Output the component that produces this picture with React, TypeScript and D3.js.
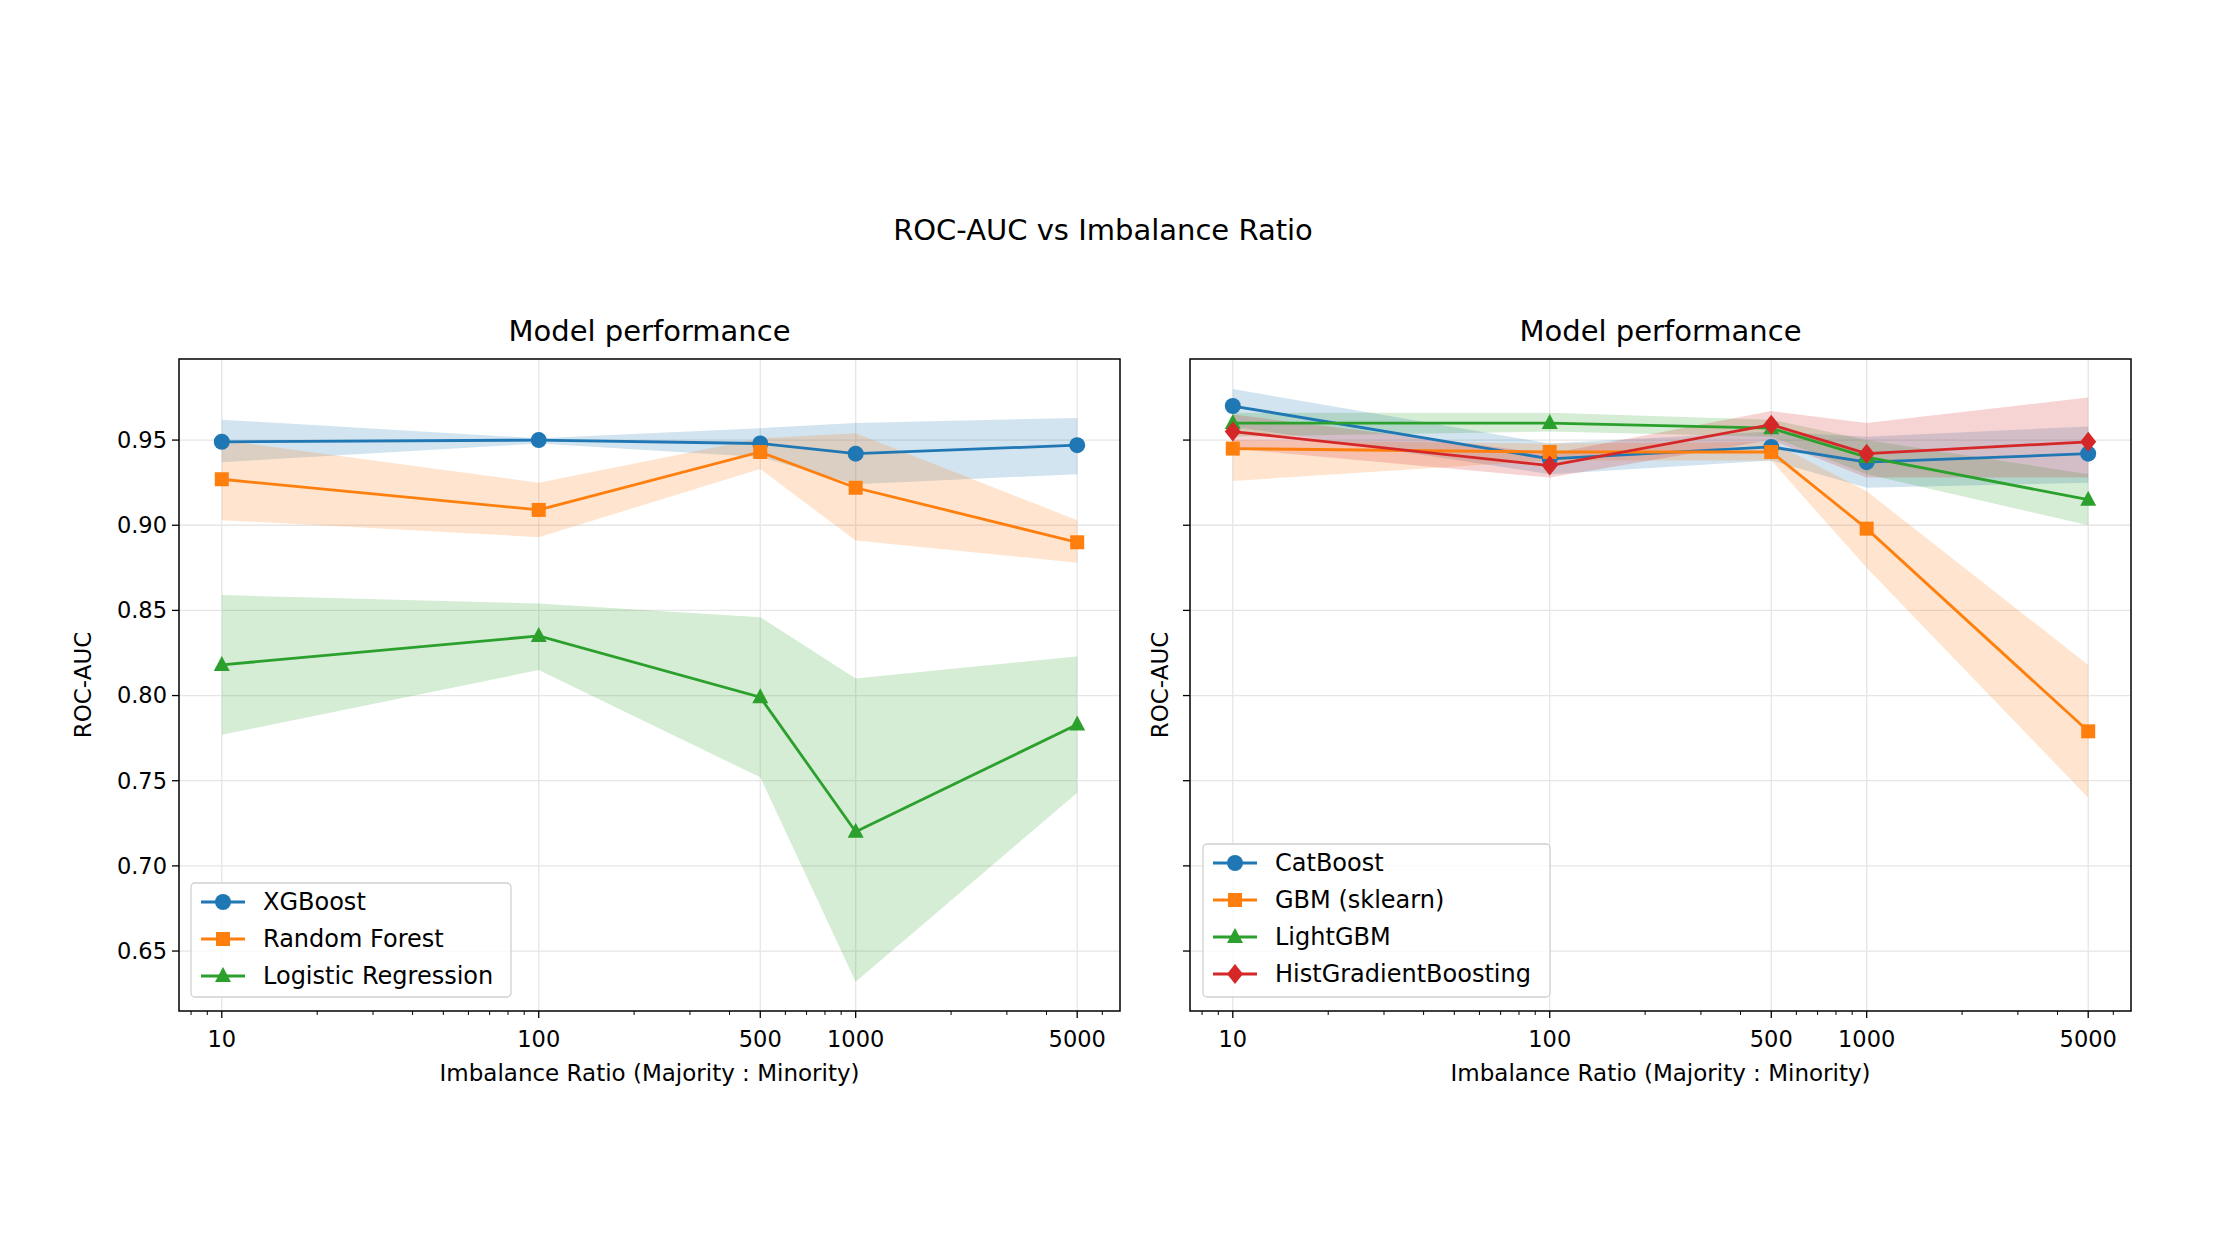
import * as d3 from 'd3'

const RATIOS = [10, 100, 500, 1000, 5000]
const TICKS = [10, 100, 500, 1000, 5000]
const Y_TICKS = [0.65, 0.7, 0.75, 0.8, 0.85, 0.9, 0.95]

interface Series { name: string; color: string; marker: string; mean: number[]; lo: number[]; hi: number[] }

const LEFT: Series[] = [
  { name: 'XGBoost', color: '#1f77b4', marker: 'circle',
    mean: [0.949, 0.950, 0.948, 0.942, 0.947], lo: [0.937, 0.948, 0.940, 0.924, 0.930], hi: [0.962, 0.951, 0.957, 0.960, 0.963] },
  { name: 'Random Forest', color: '#ff7f0e', marker: 'square',
    mean: [0.927, 0.909, 0.943, 0.922, 0.890], lo: [0.903, 0.893, 0.933, 0.891, 0.878], hi: [0.950, 0.925, 0.951, 0.954, 0.903] },
  { name: 'Logistic Regression', color: '#2ca02c', marker: 'triangle',
    mean: [0.818, 0.835, 0.799, 0.720, 0.783], lo: [0.777, 0.815, 0.752, 0.632, 0.743], hi: [0.859, 0.854, 0.846, 0.810, 0.823] },
]

const RIGHT: Series[] = [
  { name: 'CatBoost', color: '#1f77b4', marker: 'circle',
    mean: [0.970, 0.939, 0.946, 0.937, 0.942], lo: [0.958, 0.930, 0.938, 0.922, 0.925], hi: [0.980, 0.948, 0.955, 0.952, 0.958] },
  { name: 'GBM (sklearn)', color: '#ff7f0e', marker: 'square',
    mean: [0.945, 0.943, 0.943, 0.898, 0.779], lo: [0.926, 0.938, 0.938, 0.875, 0.740], hi: [0.950, 0.948, 0.949, 0.920, 0.818] },
  { name: 'LightGBM', color: '#2ca02c', marker: 'triangle',
    mean: [0.960, 0.960, 0.957, 0.940, 0.915], lo: [0.952, 0.955, 0.952, 0.930, 0.900], hi: [0.966, 0.966, 0.962, 0.950, 0.930] },
  { name: 'HistGradientBoosting', color: '#d62728', marker: 'diamond',
    mean: [0.955, 0.935, 0.959, 0.942, 0.949], lo: [0.945, 0.928, 0.950, 0.928, 0.928], hi: [0.965, 0.942, 0.967, 0.960, 0.975] },
]

const FONT = 'DejaVu Sans, sans-serif'
const TOP = 359
const BOTTOM = 1011

function Marker({ kind, x, y, color }: { kind: string; x: number; y: number; color: string }) {
  const s = 8
  if (kind === 'circle') return <circle cx={x} cy={y} r={s} fill={color} />
  if (kind === 'square') return <rect x={x - s + 1} y={y - s + 1} width={2 * s - 2} height={2 * s - 2} fill={color} />
  if (kind === 'triangle') return <path d={`M${x},${y - s - 1}L${x + s},${y + s - 2}L${x - s},${y + s - 2}Z`} fill={color} />
  return <path d={`M${x},${y - s - 2}L${x + s},${y}L${x},${y + s + 2}L${x - s},${y}Z`} fill={color} />
}

function Panel({ left, right, series, showLabels, legend }: { left: number; right: number; series: Series[]; showLabels: boolean; legend: [number, number, number, number] }) {
  const x = d3.scaleLog().domain([10 ** 0.865, 10 ** 3.834]).range([left, right])
  const y = d3.scaleLinear().domain([0.6148, 0.9976]).range([BOTTOM, TOP])
  const minor: number[] = []
  for (let e = 0; e < 4; e++) for (let m = 1; m < 10; m++) {
    const v = m * 10 ** e
    if (v > x.domain()[0] && v < x.domain()[1] && !TICKS.includes(v)) minor.push(v)
  }
  const line = d3.line<number>().x((_, i) => x(RATIOS[i])).y(d => y(d))
  const mid = (left + right) / 2
  const [lx, ly, lw, lh] = legend
  const rowH = 37
  return (
    <g>
      {Y_TICKS.map(t => <line key={t} x1={left} x2={right} y1={y(t)} y2={y(t)} stroke="#e6e6e6" strokeWidth={1.3} />)}
      {TICKS.map(t => <line key={t} x1={x(t)} x2={x(t)} y1={TOP} y2={BOTTOM} stroke="#e6e6e6" strokeWidth={1.3} />)}
      {series.map(s => {
        const band = d3.area<number>().x((_, i) => x(RATIOS[i])).y0((_, i) => y(s.lo[i])).y1((_, i) => y(s.hi[i]))
        return <path key={s.name} d={band(s.mean) ?? ''} fill={s.color} fillOpacity={0.2} />
      })}
      {series.map(s => (
        <g key={s.name}>
          <path d={line(s.mean) ?? ''} fill="none" stroke={s.color} strokeWidth={2.8} />
          {s.mean.map((v, i) => <Marker key={i} kind={s.marker} x={x(RATIOS[i])} y={y(v)} color={s.color} />)}
        </g>
      ))}
      <rect x={left} y={TOP} width={right - left} height={BOTTOM - TOP} fill="none" stroke="#000" strokeWidth={1.5} />
      {Y_TICKS.map(t => (
        <g key={t}>
          <line x1={left - 7} x2={left} y1={y(t)} y2={y(t)} stroke="#000" strokeWidth={1.3} />
          {showLabels && <text x={left - 12} y={y(t)} dy="0.35em" textAnchor="end" fontSize={22.5} fontFamily={FONT}>{t.toFixed(2)}</text>}
        </g>
      ))}
      {TICKS.map(t => (
        <g key={t}>
          <line x1={x(t)} x2={x(t)} y1={BOTTOM} y2={BOTTOM + 7} stroke="#000" strokeWidth={1.3} />
          <text x={x(t)} y={BOTTOM + 28} dy="0.35em" textAnchor="middle" fontSize={22.5} fontFamily={FONT}>{t}</text>
        </g>
      ))}
      {minor.map(t => <line key={t} x1={x(t)} x2={x(t)} y1={BOTTOM} y2={BOTTOM + 4} stroke="#000" strokeWidth={1} />)}
      <text x={mid} y={1073} dy="0.35em" textAnchor="middle" fontSize={23} fontFamily={FONT}>Imbalance Ratio (Majority : Minority)</text>
      <text transform={`translate(${left - (showLabels ? 96 : 30)},${(TOP + BOTTOM) / 2}) rotate(-90)`} dy="0.35em" textAnchor="middle" fontSize={23} fontFamily={FONT}>ROC-AUC</text>
      <text x={mid} y={331} dy="0.35em" textAnchor="middle" fontSize={29} fontFamily={FONT}>Model performance</text>
      <g transform={`translate(${lx},${ly})`}>
        <rect width={lw} height={lh} rx={4} fill="#fff" fillOpacity={0.8} stroke="#d0d0d0" strokeWidth={1.3} />
        {series.map((s, i) => {
          const cy = 19 + i * rowH
          return (
            <g key={s.name}>
              <line x1={10} x2={54} y1={cy} y2={cy} stroke={s.color} strokeWidth={2.8} />
              <Marker kind={s.marker} x={32} y={cy} color={s.color} />
              <text x={72} y={cy} dy="0.35em" fontSize={24} fontFamily={FONT}>{s.name}</text>
            </g>
          )
        })}
      </g>
    </g>
  )
}

export default function App() {
  return (
    <svg width={2224} height={1244} style={{ display: 'block' }} viewBox="8 8 2224 1244">
      <rect x={0} y={0} width={2240} height={1260} fill="#fff" />
      <text x={1103} y={230} dy="0.35em" textAnchor="middle" fontSize={29} fontFamily={FONT}>ROC-AUC vs Imbalance Ratio</text>
      <Panel left={179} right={1120} series={LEFT} showLabels legend={[191, 883, 320, 114]} />
      <Panel left={1190} right={2131} series={RIGHT} showLabels={false} legend={[1203, 844, 347, 153]} />
    </svg>
  )
}
